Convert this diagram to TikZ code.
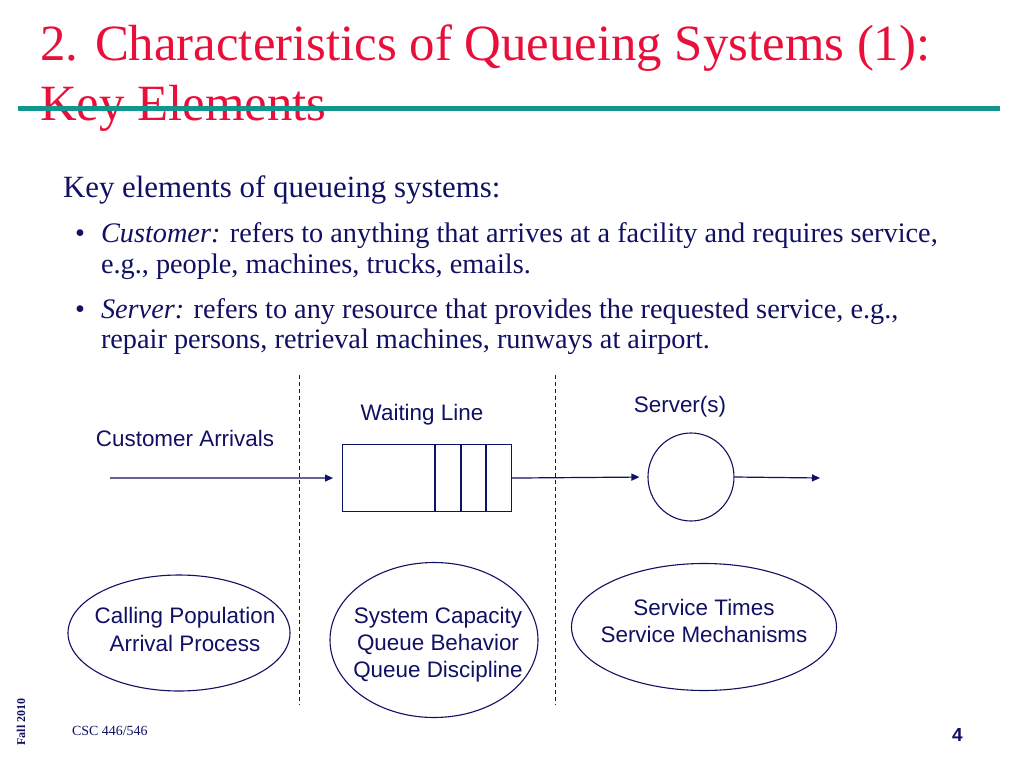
\documentclass[tikz,border=0pt]{standalone}
\usepackage{fontspec}
\setmainfont{Liberation Serif}
\newfontfamily\arialf{Liberation Sans}
\usetikzlibrary{arrows.meta,shapes.geometric}
\definecolor{titlered}{RGB}{232,16,58}
\definecolor{tealline}{RGB}{16,150,140}
\definecolor{navy}{RGB}{16,16,100}
\begin{document}
\begin{tikzpicture}[x=1bp,y=-1bp,
  txt/.style={anchor=base west,inner sep=0pt,outer sep=0pt,text=navy},
  lbl/.style={anchor=base,inner sep=0pt,outer sep=0pt,text=navy,font=\arialf\fontsize{22.5}{27}\selectfont},
  divider/.style={draw=navy,dash pattern=on 4bp off 3bp,line width=0.9bp},
  flow/.style={draw=navy,line width=1.2bp,-{Triangle[length=8bp,width=7bp]}},
  shp/.style={draw=navy,line width=1.1bp,inner sep=0pt},
  oval/.style={draw=navy,line width=1.1bp,ellipse,inner sep=0pt},
  ovtext/.style={anchor=base,inner sep=0pt,text=navy,font=\arialf\fontsize{22.5}{27}\selectfont}]
\useasboundingbox[fill=white] (0,0) rectangle (1024,768);
% title
\node[txt,text=titlered,font=\fontsize{51}{61}\selectfont] (t1) at (40,61) {2. Characteristics of Queueing Systems (1):};
\node[txt,text=titlered,font=\fontsize{51}{61}\selectfont] (t2) at (40,120) {Key Elements};
\coordinate (tlA) at (18,108);
\coordinate (tlB) at (1000,108);
\draw[tealline,line width=5bp] (tlA) -- (tlB);
% body
\node[txt,font=\fontsize{31}{37}\selectfont] (k) at (63,197) {Key elements of queueing systems:};
\node[txt,font=\fontsize{28.4}{34}\selectfont] (b1) at (75,242) {\textbullet};
\node[txt,font=\fontsize{28.4}{34}\selectfont] (c1) at (101,242) {\textit{Customer:} refers to anything that arrives at a facility and requires service,};
\node[txt,font=\fontsize{28.4}{34}\selectfont] (c2) at (101,273) {e.g., people, machines, trucks, emails.};
\node[txt,font=\fontsize{28.4}{34}\selectfont] (b2) at (75,318) {\textbullet};
\node[txt,font=\fontsize{28.4}{34}\selectfont] (s1) at (101,318) {\textit{Server:} refers to any resource that provides the requested service, e.g.,};
\node[txt,font=\fontsize{28.4}{34}\selectfont] (s2) at (101,348) {repair persons, retrieval machines, runways at airport.};
% dividers
\coordinate (d1a) at (299,375); \coordinate (d1b) at (299,705);
\coordinate (d2a) at (555,375); \coordinate (d2b) at (555,705);
\draw[divider] (d1a) -- (d1b);
\draw[divider] (d2a) -- (d2b);
% labels
\node[lbl] (ca) at (185,446) {Customer Arrivals};
\node[lbl] (wl) at (422,420) {Waiting Line};
\node[lbl] (sv) at (680,412) {Server(s)};
% queue
\node[shp,minimum width=169bp,minimum height=67bp,anchor=north west] (queue) at (342,444) {};
\coordinate (q1t) at (435,444); \coordinate (q1b) at (435,511);
\coordinate (q2t) at (461,444); \coordinate (q2b) at (461,511);
\coordinate (q3t) at (486,444); \coordinate (q3b) at (486,511);
\draw[navy,line width=1.1bp] (q1t) -- (q1b) (q2t) -- (q2b) (q3t) -- (q3b);
% server
\node[shp,ellipse,minimum width=86bp,minimum height=88bp] (server) at (691,477) {};
% flows
\coordinate (start) at (110,478);
\coordinate (fin) at (820,478);
\draw[flow,shorten >=9bp] (start) -- (queue.west);
\draw[flow,shorten >=8bp] (queue.east) -- (server.west);
\draw[flow] (server.east) -- (fin);
% ovals
\node[oval,minimum width=222bp,minimum height=116bp] (o1) at (179,633) {};
\node[ovtext] (o1a) at (185,623) {Calling Population};
\node[ovtext] (o1b) at (185,651) {Arrival Process};
\node[oval,minimum width=208bp,minimum height=155bp] (o2) at (434,640) {};
\node[ovtext] (o2a) at (438,623) {System Capacity};
\node[ovtext] (o2b) at (438,650) {Queue Behavior};
\node[ovtext] (o2c) at (438,677) {Queue Discipline};
\node[oval,minimum width=265bp,minimum height=127bp] (o3) at (704,627) {};
\node[ovtext] (o3a) at (704,615) {Service Times};
\node[ovtext] (o3b) at (704,642) {Service Mechanisms};
% footer
\node[inner sep=0pt,text=navy,rotate=90,anchor=base,font=\bfseries\fontsize{12}{14}\selectfont] (fall) at (25,722) {Fall 2010};
\node[txt,font=\fontsize{14}{17}\selectfont] (csc) at (72,735) {CSC 446/546};
\node[txt,font=\arialf\bfseries\fontsize{19}{22}\selectfont] (pg) at (952,741) {4};
\end{tikzpicture}
\end{document}
